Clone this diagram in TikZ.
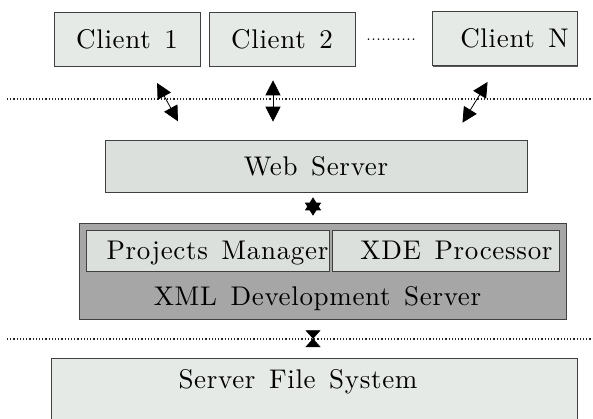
\documentclass[tikz,border=0pt]{standalone}
\usepackage{fontspec}
\usetikzlibrary{arrows.meta, positioning, shadows}
\newfontfamily\boxfamily{lmroman10-regular.otf}[LetterSpace=2.5]
\definecolor{boxlight}{HTML}{E6EAE6}
\definecolor{boxmid}{HTML}{DCE0DC}
\definecolor{servergrey}{HTML}{A6A6A6}
\newcommand\boxfont{\boxfamily\fontsize{27}{32}\selectfont\spaceskip=0.5em plus 0.1em\relax}
\tikzset{
  box/.style={rectangle, draw=black!75, line width=0.6pt, fill=boxlight, inner sep=0pt,
    text height=18pt, text depth=0pt, font=\boxfont,
    drop shadow={shadow xshift=1.4pt, shadow yshift=-1.4pt, fill=black!65, opacity=1}},
  client/.style={box, minimum width=146pt, minimum height=54pt},
  boxmidfill/.style={box, fill=boxmid},
  xmlbox/.style={box, fill=servergrey, minimum width=487pt, text height=82pt, text depth=14pt,
    drop shadow={shadow xshift=1pt, shadow yshift=-1pt, fill=black!80, opacity=1}},
  fsbox/.style={box, minimum width=526pt, inner ysep=12pt, text depth=80pt},
  dblarrow/.style={{Triangle[length=15pt, width=15pt]}-{Triangle[length=15pt, width=15pt]}, line width=0.8pt},
  starlink/.style={{Triangle[length=13pt, width=16pt]}-{Triangle[length=13pt, width=16pt]}, line width=0.8pt},
  hourlink/.style={{Triangle[reversed, length=8.5pt, width=15pt]}-{Triangle[reversed, length=8.5pt, width=15pt]}, line width=0.8pt},
  sepline/.style={line width=1.2pt, dash pattern=on 1.2pt off 2pt, black!85},
}
\begin{document}
\begin{tikzpicture}[x=1pt, y=-1pt]
\useasboundingbox (0,0) rectangle (593,418);
\clip (0,0) rectangle (593,418);
\node[client] (c1) at (127,39) {Client 1};
\node[client] (c2) at (282,39) {Client 2};
\node[client, minimum width=145pt] (cN) at (504.5,38.5) {\hspace*{20pt}Client N};
\node[font=\fontsize{20}{24}\selectfont, inner sep=0pt, anchor=base] (gap) at (391,40.5) {..........};
\draw[sepline] (7,99) -- (593,99);
\node[boxmidfill, minimum width=422pt, minimum height=52pt] (web) at (316,166) {Web Server};
\node[xmlbox] (xml) at (322.5,271) {XML Development Server\hspace*{10pt}};
\node[boxmidfill, minimum width=243pt, minimum height=41pt] (pm) at (207.5,250.5) {\hspace*{20pt}Projects Manager};
\node[boxmidfill, minimum width=227pt, minimum height=41pt] (xde) at (445.5,250.5) {\hspace*{22pt}XDE Processor};
\draw[sepline] (7,339) -- (593,339);
\node[fsbox, anchor=north] (fs) at (314,358) {Server File System\hspace*{32pt}};
\draw[dblarrow, shorten <=19pt, shorten >=21pt] ([xshift=21pt]c1.south) -- ([xshift=-128pt]web.north);
\draw[dblarrow, shorten <=14pt, shorten >=18pt] ([xshift=-9pt]c2.south) -- ([xshift=-9pt]c2.south |- web.north);
\draw[dblarrow, shorten <=19pt, shorten >=20pt] ([xshift=-7pt]cN.south) -- ([xshift=136pt]web.north);
\draw[starlink, shorten <=5pt, shorten >=7pt] ([xshift=-3pt]web.south) -- ([xshift=-3pt]web.south |- xml.north);
\draw[hourlink, shorten <=11pt, shorten >=11pt] ([xshift=-9.5pt]xml.south) -- ([xshift=-9.5pt]xml.south |- fs.north);
\end{tikzpicture}
\end{document}
